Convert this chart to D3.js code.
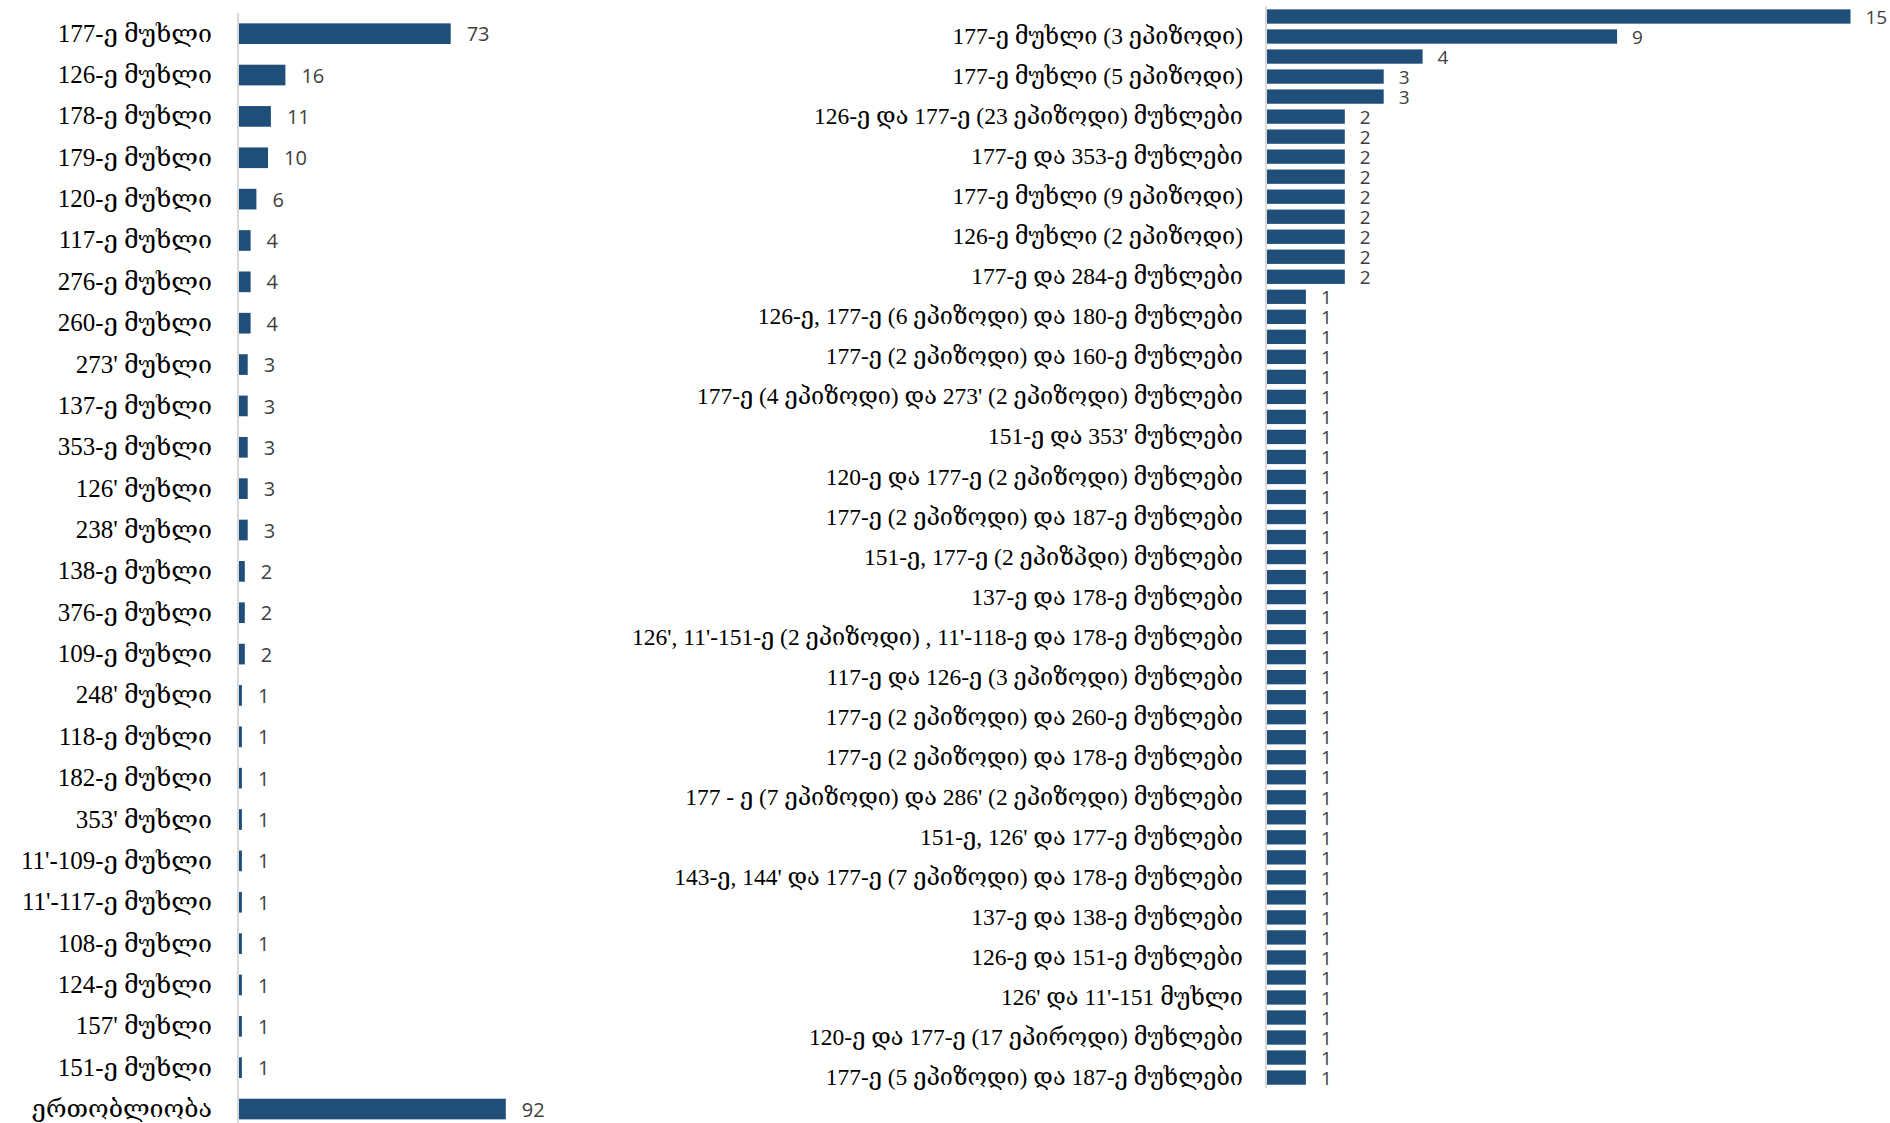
<!DOCTYPE html>
<html>
<head>
<meta charset="utf-8">
<script src="https://cdn.jsdelivr.net/npm/d3@7"></script>
<style>
  html, body { margin: 0; padding: 0; background: #fff; }
  svg { display: block; }
  .cat text { font-family: "Liberation Serif", "DejaVu Serif", serif; fill: #000; }
  .val { font-family: "Open Sans", "Liberation Sans", sans-serif; fill: #404040; }
</style>
</head>
<body>
<svg id="chart" width="1890" height="1123"></svg>
<script>
// ---------- data ----------
const leftCategories = [
  "177-ე მუხლი","126-ე მუხლი","178-ე მუხლი","179-ე მუხლი","120-ე მუხლი","117-ე მუხლი",
  "276-ე მუხლი","260-ე მუხლი","273' მუხლი","137-ე მუხლი","353-ე მუხლი","126' მუხლი",
  "238' მუხლი","138-ე მუხლი","376-ე მუხლი","109-ე მუხლი","248' მუხლი","118-ე მუხლი",
  "182-ე მუხლი","353' მუხლი","11'-109-ე მუხლი","11'-117-ე მუხლი","108-ე მუხლი",
  "124-ე მუხლი","157' მუხლი","151-ე მუხლი","ერთობლიობა"
];
const leftValues = [73,16,11,10,6,4,4,4,3,3,3,3,3,2,2,2,1,1,1,1,1,1,1,1,1,1,92];

// labels shown on the right chart (every second bar carries a visible label)
const rightLabels = [
  "177-ე მუხლი (3 ეპიზოდი)",
  "177-ე მუხლი (5 ეპიზოდი)",
  "126-ე და 177-ე (23 ეპიზოდი) მუხლები",
  "177-ე და 353-ე მუხლები",
  "177-ე მუხლი (9 ეპიზოდი)",
  "126-ე მუხლი (2 ეპიზოდი)",
  "177-ე და 284-ე მუხლები",
  "126-ე, 177-ე (6 ეპიზოდი) და 180-ე მუხლები",
  "177-ე (2 ეპიზოდი) და 160-ე მუხლები",
  "177-ე (4 ეპიზოდი) და 273' (2 ეპიზოდი) მუხლები",
  "151-ე და 353' მუხლები",
  "120-ე და 177-ე (2 ეპიზოდი) მუხლები",
  "177-ე (2 ეპიზოდი) და 187-ე მუხლები",
  "151-ე, 177-ე (2 ეპიზპდი) მუხლები",
  "137-ე და 178-ე მუხლები",
  "126', 11'-151-ე (2 ეპიზოდი) , 11'-118-ე და 178-ე მუხლები",
  "117-ე და 126-ე (3 ეპიზოდი) მუხლები",
  "177-ე (2 ეპიზოდი) და 260-ე მუხლები",
  "177-ე (2 ეპიზოდი) და 178-ე მუხლები",
  "177 - ე (7 ეპიზოდი) და 286' (2 ეპიზოდი) მუხლები",
  "151-ე, 126' და 177-ე მუხლები",
  "143-ე, 144' და 177-ე (7 ეპიზოდი) და 178-ე მუხლები",
  "137-ე და 138-ე მუხლები",
  "126-ე და 151-ე მუხლები",
  "126' და 11'-151 მუხლი",
  "120-ე  და 177-ე (17 ეპიროდი) მუხლები",
  "177-ე (5 ეპიზოდი) და 187-ე მუხლები"
];
const rightValues = [
  15,9,4,3,3,2,2,2,2,2,2,2,2,2,
  1,1,1,1,1,1,1,1,1,1,1,1,1,1,1,1,1,1,1,1,
  1,1,1,1,1,1,1,1,1,1,1,1,1,1,1,1,1,1,1,1
];

// ---------- drawing ----------
const svg = d3.select("#chart");
const BAR = "#1f4e79";

function drawPanel(opts) {
  const { values, tickText, x0, x1, maxV, y0, y1, padding, fontSize, valSize, tickPad, labelGap, axisEnd } = opts;
  const idx = values.map((d, i) => i);
  const x = d3.scaleLinear().domain([0, maxV]).range([x0, x1]);
  const y = d3.scaleBand().domain(idx).range([y0, y1]).paddingInner(padding).paddingOuter(padding / 2);

  const g = svg.append("g");

  const axis = d3.axisLeft(y).tickSize(0).tickSizeOuter(0).tickPadding(tickPad)
    .tickFormat(i => tickText(i));
  const ga = g.append("g").attr("class", "cat")
    .attr("transform", `translate(${x(0)},0)`).call(axis);
  ga.select(".domain").remove();
  ga.selectAll("text").style("font-size", fontSize + "px").attr("dy", "0.32em");

  g.append("line")
    .attr("x1", x(0) - 1).attr("x2", x(0) - 1)
    .attr("y1", y0).attr("y2", axisEnd)
    .attr("stroke", "#d9d9d9").attr("stroke-width", 2);

  g.selectAll("rect.bar").data(values).join("rect")
    .attr("class", "bar")
    .attr("x", x(0))
    .attr("y", (d, i) => y(i))
    .attr("width", d => x(d) - x(0))
    .attr("height", y.bandwidth())
    .attr("fill", BAR);

  g.selectAll("text.val").data(values).join("text")
    .attr("class", "val")
    .style("font-size", valSize + "px")
    .attr("x", d => x(d) + labelGap)
    .attr("y", (d, i) => y(i) + y.bandwidth() / 2)
    .attr("dy", "0.38em")
    .text(d => d);
}

drawPanel({
  values: leftValues,
  tickText: i => leftCategories[i],
  x0: 239, x1: 239 + 290, maxV: 100,
  y0: 13, y1: 13 + 27 * 41.36,
  padding: 0.5, fontSize: 25, valSize: 20, tickPad: 27, labelGap: 16,
  axisEnd: 1123
});

drawPanel({
  values: rightValues,
  tickText: i => (i % 2 === 1 ? rightLabels[(i - 1) / 2] : ""),
  x0: 1267, x1: 1267 + 38.9 * 15, maxV: 15,
  y0: 6.5, y1: 6.5 + 54 * 20.02,
  padding: 0.285, fontSize: 23.5, valSize: 19, tickPad: 24, labelGap: 15,
  axisEnd: 1088
});
</script>
</body>
</html>
